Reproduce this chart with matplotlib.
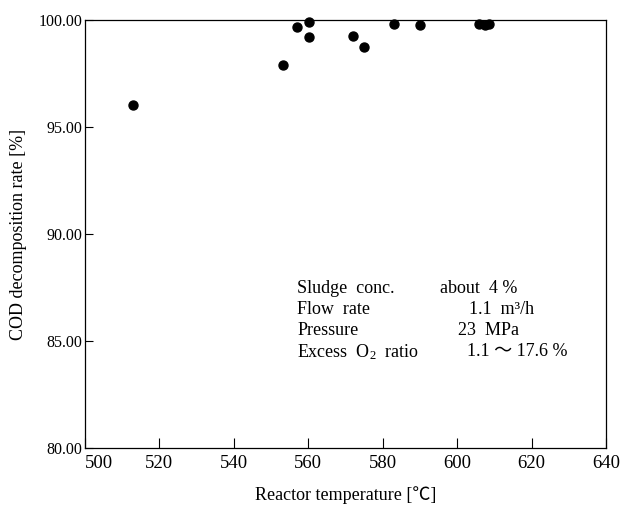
import matplotlib
matplotlib.use("Agg")
import matplotlib.pyplot as plt

temperature = [512.8, 553.1, 557.1, 560.1, 560.1, 572.1, 575.1, 583.0, 589.9, 605.8, 607.5, 608.6]
cod_rate = [96.03, 97.91, 99.68, 99.89, 99.22, 99.25, 98.75, 99.80, 99.77, 99.82, 99.78, 99.82]

x_ticks = [500, 520, 540, 560, 580, 600, 620, 640]
y_ticks = [80.00, 85.00, 90.00, 95.00, 100.00]

conditions_left = ["Sludge  conc.", "Flow  rate", "Pressure", r"Excess  O$_{\mathrm{2}}$  ratio"]
conditions_right = ["about  4 %", "1.1  m\u00b3/h", "23  MPa", "1.1 \uff5e 17.6 %"]
right_x = [595.4, 603.3, 600.3, 602.6]

FONT = ["Liberation Serif", "Noto Sans CJK JP", "DejaVu Serif"]
plt.rcParams["font.family"] = FONT
plt.rcParams["mathtext.fontset"] = "custom"
plt.rcParams["mathtext.rm"] = "Liberation Serif"
plt.rcParams["mathtext.it"] = "Liberation Serif:italic"
plt.rcParams["mathtext.bf"] = "Liberation Serif:bold"

fig = plt.figure(figsize=(6.21, 5.12), dpi=100)
ax = fig.add_axes([85/621, 1-448/512, (606-85)/621, (448-20)/512])

ax.scatter(temperature, cod_rate, s=42, color="black", zorder=3, clip_on=False)

ax.set_xlim(500, 640)
ax.set_ylim(80, 100)
ax.set_xticks(x_ticks)
ax.set_yticks(y_ticks)
ax.set_xticklabels([str(t) for t in x_ticks], fontsize=13.5)
ax.set_yticklabels([f"{v:.2f}" for v in y_ticks], fontsize=11.5)
ax.tick_params(axis="x", direction="in", length=7, width=0.8, pad=5, top=False)
ax.tick_params(axis="y", direction="in", length=6, width=0.8, pad=2, right=False)
ax.get_xticklabels()[0].set_horizontalalignment("left")
for sp in ax.spines.values():
    sp.set_linewidth(0.9)
    sp.set_color("black")

ax.set_xlabel("Reactor temperature [\u2103]", fontsize=13, labelpad=10)
ax.set_ylabel("COD decomposition rate [%]", fontsize=13, labelpad=8)

line_y = [87.43, 86.45, 85.47, 84.49]
for lbl, val, ly, rx in zip(conditions_left, conditions_right, line_y, right_x):
    ax.text(557.0, ly, lbl, fontsize=13, va="center", ha="left")
    ax.text(rx, ly, val, fontsize=13, va="center", ha="left")

fig.savefig("out.png", dpi=100)
